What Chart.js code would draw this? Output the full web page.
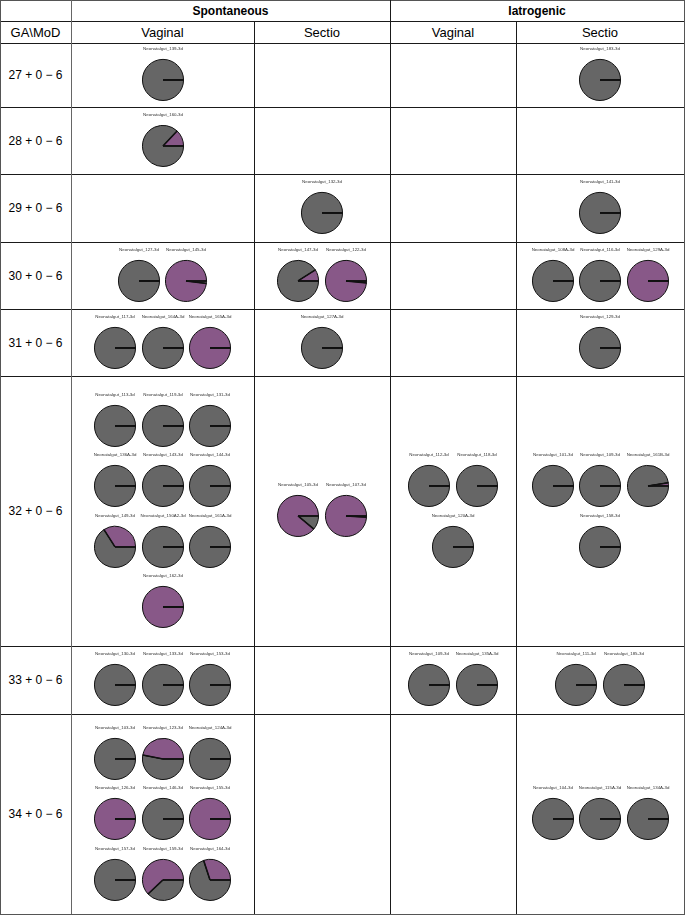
<!DOCTYPE html>
<html>
<head>
<meta charset="utf-8">
<script src="https://cdn.jsdelivr.net/npm/chart.js@4.4.1/dist/chart.umd.min.js"></script>
<style>
  body { margin: 0; background: #fff; font-family: "Liberation Sans", Arial, sans-serif; }
  #board { position: relative; width: 685px; height: 917px; overflow: hidden; }
  .line { position: absolute; background: #1a1a1a; }
  .txt { position: absolute; display: flex; align-items: center; justify-content: center; color: #000; white-space: nowrap; }
  canvas { position: absolute; }
</style>
</head>
<body>
<div id="board"></div>
<script>
// --- data ---
const gaLabels = ['27 + 0 \u2212 6', '28 + 0 \u2212 6', '29 + 0 \u2212 6', '30 + 0 \u2212 6',
                  '31 + 0 \u2212 6', '32 + 0 \u2212 6', '33 + 0 \u2212 6', '34 + 0 \u2212 6'];
const deliveryGroups = ['Spontaneous', 'Iatrogenic'];
const deliveryModes = ['Vaginal', 'Sectio', 'Vaginal', 'Sectio'];

const sampleIds = [
  '139-3d', '183-3d',
  '160-3d',
  '132-3d', '141-3d',
  '127-3d', '145-3d', '147-3d', '122-3d', '108A-3d', '116-3d', '129A-3d',
  '117-3d', '164A-3d', '165A-3d', '127A-3d', '129-3d',
  '113-3d', '119-3d', '131-3d', '136A-3d', '143-3d', '144-3d', '149-3d', '150A2-3d', '161A-3d', '162-3d',
  '105-3d', '107-3d', '112-3d', '118-3d', '120A-3d', '101-3d', '109-3d', '161B-3d', '158-3d',
  '130-3d', '133-3d', '153-3d', '109-3d', '135A-3d', '111-3d', '185-3d',
  '103-3d', '123-3d', '124A-3d', '126-3d', '146-3d', '155-3d', '157-3d', '159-3d', '164-3d',
  '104-3d', '115A-3d', '134A-3d'
];
// row = index into gaLabels, col = index into deliveryModes
const sampleRow = [
  0, 0,
  1,
  2, 2,
  3, 3, 3, 3, 3, 3, 3,
  4, 4, 4, 4, 4,
  5, 5, 5, 5, 5, 5, 5, 5, 5, 5,
  5, 5, 5, 5, 5, 5, 5, 5, 5,
  6, 6, 6, 6, 6, 6, 6,
  7, 7, 7, 7, 7, 7, 7, 7, 7,
  7, 7, 7
];
const sampleCol = [
  0, 3,
  0,
  1, 3,
  0, 0, 1, 1, 3, 3, 3,
  0, 0, 0, 1, 3,
  0, 0, 0, 0, 0, 0, 0, 0, 0, 0,
  1, 1, 2, 2, 2, 3, 3, 3, 3,
  0, 0, 0, 2, 2, 3, 3,
  0, 0, 0, 0, 0, 0, 0, 0, 0,
  3, 3, 3
];
// share (%) of the purple group in each sample
const purpleShare = [
  0, 0,
  13,
  0, 0,
  0, 98, 9, 98.5, 0, 0, 100,
  0, 0, 100, 0, 0,
  0, 0, 0, 0, 0, 0, 34, 0, 0, 100,
  89, 99, 0, 0, 0, 0, 0, 2.5, 0,
  0, 0, 0, 0, 0, 0, 0,
  0, 47, 0, 100, 0, 100, 0, 62, 30,
  0, 0, 0
];

// --- layout ---
const colX = [0, 71, 254, 390, 516, 684];
const rowY = [0, 21, 43, 107, 174, 242, 309, 376, 646, 714, 914];
const GREY = '#666666';
const PURPLE = '#885888';
const FONT = '"Liberation Sans", Arial, sans-serif';
const board = document.getElementById('board');

function addLine(x, y, w, h, color) {
  const d = document.createElement('div');
  d.className = 'line';
  Object.assign(d.style, { left: x + 'px', top: y + 'px', width: w + 'px', height: h + 'px' });
  if (color) d.style.background = color;
  board.appendChild(d);
}
function addText(text, x0, y0, x1, y1, size, bold) {
  const d = document.createElement('div');
  d.className = 'txt';
  d.textContent = text;
  Object.assign(d.style, { left: x0 + 'px', top: y0 + 'px', width: (x1 - x0) + 'px', height: (y1 - y0) + 'px',
    fontSize: size + 'px', fontWeight: bold ? 'bold' : 'normal' });
  board.appendChild(d);
}

// grid
const bottom = rowY[rowY.length - 1];
rowY.forEach((y, i) => addLine(0, y, 685, 1, (i === 0 || i === rowY.length - 1) ? '#555' : null));
addLine(0, 0, 1, bottom + 1, '#555');
addLine(684, 0, 1, bottom + 1, '#555');
addLine(colX[1], 0, 1, bottom, '#666');
addLine(colX[3], 0, 1, bottom);
addLine(colX[2], rowY[1], 1, bottom - rowY[1]);
addLine(colX[4], rowY[1], 1, bottom - rowY[1]);

// headers
addText(deliveryGroups[0], colX[1], rowY[0], colX[3], rowY[1], 12, true);
addText(deliveryGroups[1], colX[3], rowY[0], colX[5], rowY[1], 12, true);
addText('GA\\MoD', colX[0], rowY[1], colX[1], rowY[2], 13, false);
deliveryModes.forEach((m, i) => addText(m, colX[i + 1], rowY[1], colX[i + 2], rowY[2], 13, false));
gaLabels.forEach((g, i) => addText(g, colX[0], rowY[i + 2], colX[1], rowY[i + 3], 12, false));

// draws the radial edges of every slice, like base R pie()
const radialEdges = {
  id: 'radialEdges',
  afterDatasetsDraw(chart) {
    const ctx = chart.ctx;
    ctx.save();
    ctx.strokeStyle = '#111';
    ctx.lineWidth = 1.6;
    chart.getDatasetMeta(0).data.forEach(a => {
      const p = a.getProps(['x', 'y', 'startAngle', 'outerRadius']);
      ctx.beginPath();
      ctx.moveTo(p.x, p.y);
      ctx.lineTo(p.x + p.outerRadius * Math.cos(p.startAngle), p.y + p.outerRadius * Math.sin(p.startAngle));
      ctx.stroke();
    });
    ctx.restore();
  }
};

const CW = 64, CH = 62, PIE_TOP = 38;   // canvas size, pie centre offset inside canvas
const LABEL_GAP = 31, RADIUS = 20.5, ROW_STEP = 60.5, COL_STEP = 47.5;

function drawPie(id, share, cx, cy) {
  const c = document.createElement('canvas');
  c.width = CW; c.height = CH;
  c.style.left = (cx - CW / 2) + 'px';
  c.style.top = (cy - PIE_TOP) + 'px';
  board.appendChild(c);
  new Chart(c, {
    type: 'pie',
    data: {
      labels: ['other', 'purple'],
      datasets: [{
        data: [100 - share, share],
        backgroundColor: [GREY, PURPLE],
        borderColor: '#111',
        borderWidth: 1,
        offset: 0,
        hoverOffset: 0
      }]
    },
    options: {
      responsive: false,
      animation: false,
      events: [],
      rotation: 90,
      layout: { padding: { bottom: 3 } },
      plugins: {
        legend: { display: false },
        tooltip: { enabled: false },
        title: {
          display: true,
          text: 'Neonatalgut_' + id,
          color: '#333',
          font: { family: FONT, size: 4.4, weight: 'normal' },
          padding: { top: 4.3, bottom: 7.3 }
        }
      }
    },
    plugins: [radialEdges]
  });
}

// group samples per cell and place them as a small grid
// (three per line in the wide columns, two in the narrow ones)
for (let r = 0; r < gaLabels.length; r++) {
  for (let col = 0; col < deliveryModes.length; col++) {
    const idx = [];
    sampleIds.forEach((s, i) => { if (sampleRow[i] === r && sampleCol[i] === col) idx.push(i); });
    if (!idx.length) continue;
    const perLine = Math.floor((colX[col + 2] - colX[col + 1]) / 55);
    const lines = Math.ceil(idx.length / perLine);
    const cellCx = (colX[col + 1] + colX[col + 2]) / 2;
    const cellCy = (rowY[r + 2] + rowY[r + 3]) / 2;
    const blockH = LABEL_GAP + RADIUS + (lines - 1) * ROW_STEP;
    const firstCy = cellCy - blockH / 2 + LABEL_GAP;
    idx.forEach((i, k) => {
      const line = Math.floor(k / perLine);
      const inLine = Math.min(perLine, idx.length - line * perLine);
      const pos = k % perLine;
      const cx = cellCx + (pos - (inLine - 1) / 2) * COL_STEP;
      const cy = firstCy + line * ROW_STEP;
      drawPie(sampleIds[i], purpleShare[i], cx, cy);
    });
  }
}
</script>
</body>
</html>
